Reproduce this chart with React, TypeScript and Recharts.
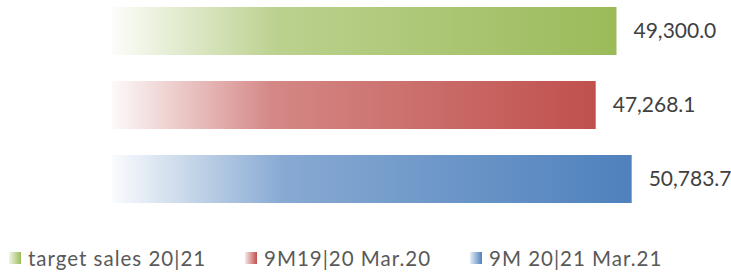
import React from "react";
import { BarChart, Bar, XAxis, YAxis, Cell, LabelList, Legend } from "recharts";

const categories = ["target sales 20|21", "9M19|20 Mar.20", "9M 20|21 Mar.21"];
const values = [49300.0, 47268.1, 50783.7];
const colors = ["#9bbb59", "#c0504d", "#4f81bd"];
const axisMax = 60000;

const data = categories.map((name, i) => ({ name, value: values[i] }));

const legendLeft = [9, 245, 470];
const FONT = "Lato, 'Open Sans', sans-serif";

const fmt = (v: any) =>
  Number(v).toLocaleString("en-US", { minimumFractionDigits: 1, maximumFractionDigits: 1 });

const renderLegend = () => (
  <div style={{ position: "relative", width: 731, height: 24 }}>
    {categories.map((c, i) => (
      <div
        key={c}
        style={{
          position: "absolute",
          left: legendLeft[i],
          top: 0,
          display: "flex",
          alignItems: "center",
          height: 24,
          whiteSpace: "nowrap",
        }}
      >
        <span
          style={{
            display: "inline-block",
            width: 12,
            height: 12,
            marginRight: 7,
            background: `linear-gradient(to right, ${colors[i]}22, ${colors[i]})`,
          }}
        />
        <span style={{ fontFamily: FONT, fontSize: 20.5, letterSpacing: 1, color: "#595959" }}>{c}</span>
      </div>
    ))}
  </div>
);

export default function App() {
  return (
    <div style={{ position: "absolute", left: 0, top: 0, width: 731, height: 274, background: "#fff" }}>
      <BarChart
        width={731}
        height={274}
        data={data}
        layout="vertical"
        margin={{ top: -6, right: 5, left: 112, bottom: 58 }}
      >
        <defs>
          {colors.map((col, i) => (
            <linearGradient key={i} id={`grad${i}`} x1="0" y1="0" x2="1" y2="0">
              <stop offset="0%" stopColor={col} stopOpacity={0.03} />
              <stop offset="33%" stopColor={col} stopOpacity={0.68} />
              <stop offset="100%" stopColor={col} stopOpacity={1} />
            </linearGradient>
          ))}
        </defs>
        <XAxis type="number" domain={[0, axisMax]} hide />
        <YAxis type="category" dataKey="name" hide />
        <Legend
          verticalAlign="middle"
          align="center"
          layout="horizontal"
          wrapperStyle={{ top: 246, left: 0, width: 731, height: 24 }}
          content={renderLegend}
        />
        <Bar dataKey="value" barSize={48} isAnimationActive={false}>
          {data.map((d, i) => (
            <Cell key={d.name} fill={`url(#grad${i})`} />
          ))}
          <LabelList
            dataKey="value"
            position="right"
            offset={17}
            formatter={fmt}
            fill="#404040"
            style={{ fontFamily: FONT, fontSize: 21 }}
          />
        </Bar>
      </BarChart>
    </div>
  );
}
